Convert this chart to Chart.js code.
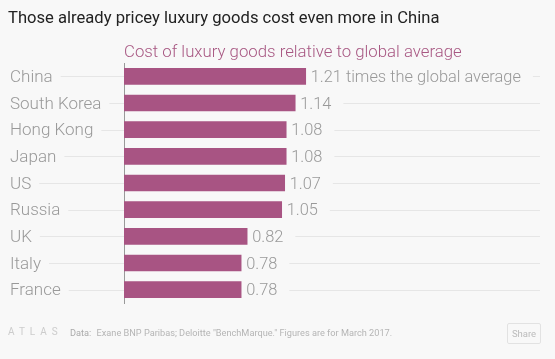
<!DOCTYPE html>
<html>
<head>
<meta charset="utf-8">
<script src="https://cdn.jsdelivr.net/npm/chart.js@4.4.1/dist/chart.umd.min.js"></script>
<style>
  body { margin: 0; background: #f8f8f8; font-family: Roboto, "Noto Sans", sans-serif; }
  #wrap { position: relative; width: 555px; height: 359px; overflow: hidden; }
  #chart { position: absolute; left: 0; top: 0; }
  .title { position: absolute; left: 8px; top: 8px; font-size: 16.6px; color: #222; }
  .subtitle { position: absolute; left: 124px; top: 41px; font-size: 16.8px; font-weight: 300; color: #a85883; }
  .logo { position: absolute; left: 8px; top: 326px; font-size: 10px; letter-spacing: 5px; color: #ccc; }
  .source { position: absolute; left: 70px; top: 327px; font-size: 9.2px; color: #b5b5b5; }
  .source b { font-weight: 400; color: #aaa; margin-right: 3px; }
  .share { position: absolute; left: 507px; top: 323px; width: 32px; height: 19px; border: 1px solid #e2e2e2;
           border-radius: 2px; font-size: 9.5px; color: #bbb; text-align: center; line-height: 19px; }
</style>
</head>
<body>
<div id="wrap">
  <canvas id="chart" width="555" height="359"></canvas>
  <div class="title">Those already pricey luxury goods cost even more in China</div>
  <div class="subtitle">Cost of luxury goods relative to global average</div>
  <div class="logo">ATLAS</div>
  <div class="source"><b>Data:</b> Exane BNP Paribas; Deloitte "BenchMarque." Figures are for March 2017.</div>
  <div class="share">Share</div>
</div>
<script>
// Dados
const countries = ["China", "South Korea", "Hong Kong", "Japan", "US", "Russia", "UK", "Italy", "France"];
const costRatio = [1.21, 1.14, 1.08, 1.08, 1.07, 1.05, 0.82, 0.78, 0.78];
const firstSuffix = " times the global average";

const barColor = "#a85483";
const labelFont = "300 17px Roboto, 'Noto Sans', sans-serif";
const valueFont = "300 16.4px Roboto, 'Noto Sans', sans-serif";

function valueText(i) {
  return costRatio[i].toFixed(2) + (i === 0 ? firstSuffix : "");
}

// Linhas de grade, nomes dos países e rótulos de valor
const rowPlugin = {
  id: "rows",
  beforeDatasetsDraw(chart) {
    const ctx = chart.ctx;
    const meta = chart.getDatasetMeta(0);
    const area = chart.chartArea;
    ctx.save();
    ctx.strokeStyle = "#e6e6e6";
    ctx.lineWidth = 1;
    meta.data.forEach((bar, i) => {
      const y = Math.round(bar.y) + 0.5;
      ctx.font = labelFont;
      const lw = ctx.measureText(countries[i]).width;
      ctx.font = valueFont;
      const vw = ctx.measureText(valueText(i)).width;
      ctx.beginPath();
      ctx.moveTo(10 + lw + 8, y);
      ctx.lineTo(area.left, y);
      ctx.moveTo(bar.x + 5 + vw + 12, y);
      ctx.lineTo(area.right, y);
      ctx.stroke();
    });
    // nomes dos países
    ctx.font = labelFont;
    ctx.fillStyle = "#999";
    ctx.textBaseline = "middle";
    meta.data.forEach((bar, i) => {
      ctx.fillText(countries[i], 10, bar.y + 1.5);
    });
    ctx.restore();
  },
  afterDatasetsDraw(chart) {
    const ctx = chart.ctx;
    const meta = chart.getDatasetMeta(0);
    ctx.save();
    ctx.font = valueFont;
    ctx.fillStyle = "#999";
    ctx.textBaseline = "middle";
    meta.data.forEach((bar, i) => {
      ctx.fillText(valueText(i), bar.x + 5, bar.y + 1.5);
    });
    ctx.restore();
  },
};

const ctx = document.getElementById("chart").getContext("2d");
const chart = new Chart(ctx, {
  type: "bar",
  data: {
    labels: countries,
    datasets: [
      {
        data: costRatio,
        backgroundColor: barColor,
        barThickness: 16,
      },
    ],
  },
  options: {
    indexAxis: "y",
    responsive: false,
    animation: false,
    layout: { padding: { top: 63, bottom: 56, left: 10, right: 15 } },
    plugins: {
      legend: { display: false },
      tooltip: { enabled: false },
    },
    scales: {
      x: { display: false, min: 0, max: 2.77 },
      y: {
        afterFit(scale) { scale.width = 114; },
        grid: { display: false, drawTicks: false },
        border: { display: true, color: "#999", width: 1 },
        ticks: { display: false },
      },
    },
  },
  plugins: [rowPlugin],
});
</script>
</body>
</html>
